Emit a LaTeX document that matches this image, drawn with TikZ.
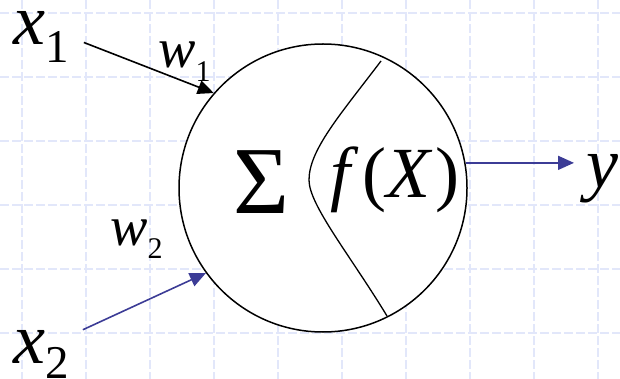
\documentclass[tikz,border=0pt]{standalone}
\usepackage{fontspec}
\setmainfont{Liberation Serif}
\usetikzlibrary{arrows.meta}
\definecolor{navy}{RGB}{60,60,150}
\definecolor{gridblue}{RGB}{226,231,250}
\newcommand{\bigfont}[1]{\fontsize{#1}{#1}\selectfont}

\begin{document}
\begin{tikzpicture}[x=1pt, y=-1pt, >={Triangle[length=16pt,width=14pt]},
		wire/.style={->, line width=1.6pt},
		lbl/.style={inner sep=0pt, anchor=base west},
		gridline/.style={gridblue, line width=2.5pt, dash pattern=on 9pt off 3pt}]
	\useasboundingbox (0,0) rectangle (620,379);
	
	% === 背景网格 ===
	\foreach \gx in {0,...,9}
		\draw[gridline] (22+64*\gx,0) -- (22+64*\gx,379);
	\foreach \gy in {0,...,5}
		\draw[gridline] (0,13+64*\gy) -- (620,13+64*\gy);
	
	% === 神经元 ===
	\node[circle, draw, fill=white, line width=1.5pt, minimum size=288pt, inner sep=0pt] (neuron) at (323,188) {};
	\draw[line width=1.3pt] (381,61) .. controls (340,115) and (309,150) .. (309,180)
		.. controls (309,205) and (350,255) .. (387,316);
	\node[inner sep=0pt, anchor=base] (sum) at (261,213) {\bigfont{96}Σ};
	\node[inner sep=0pt, anchor=base] (fx) at (395,198) {\bigfont{72}\textit{f}\kern3pt(\textit{X}\kern3pt)};
	
	% 输入与输出
	\node[lbl] (x1) at (13,45) {\bigfont{72}\textit{x}\raisebox{-18pt}{\bigfont{47}1}};
	\node[lbl] (x2) at (13,363) {\bigfont{72}\textit{x}\raisebox{-15pt}{\bigfont{47}2}};
	\node[lbl] (w1) at (158,68) {\bigfont{56}\textit{w}\raisebox{-14pt}{\bigfont{30}1}};
	\node[lbl] (w2) at (110,245) {\bigfont{56}\textit{w}\raisebox{-13pt}{\bigfont{30}2}};
	\node[lbl] (y) at (586,188) {\bigfont{72}\textit{y}};
	
	\draw[wire] ([shift={(15pt,-5pt)}]x1.east) -- (neuron.139);
	\draw[wire, navy] ([xshift=14pt]x2.north east) -- (neuron.216);
	\draw[wire, navy, shorten >=12pt] (neuron.10) -- (neuron.10 -| y.west);
\end{tikzpicture}
\end{document}
